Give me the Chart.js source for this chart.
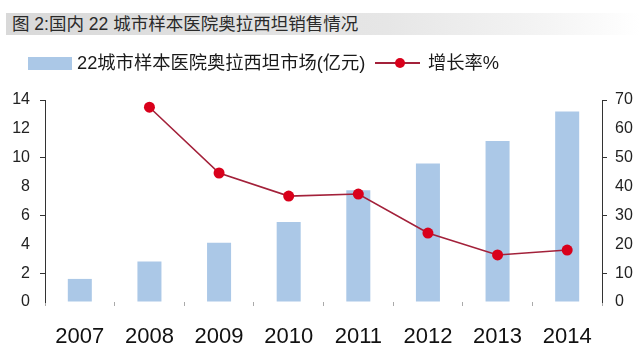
<!DOCTYPE html>
<html>
<head>
<meta charset="utf-8">
<script src="https://cdn.jsdelivr.net/npm/chart.js@4.4.1/dist/chart.umd.min.js"></script>
<style>
    body { margin: 0; background: #fff; font-family: "Liberation Sans", "Noto Sans CJK SC", sans-serif; }
    #wrap { position: relative; width: 640px; height: 352px; overflow: hidden; }
    #titulo {
        position: absolute; left: 6px; top: 13px; width: 634px; height: 22px;
        background: linear-gradient(to right, #d9d9d9, #e6e6e6 60%, #f4f4f4 85%, #fff);
        font-size: 17.5px; line-height: 23px; color: #2a2a2a; padding-left: 6px; box-sizing: border-box;
        font-family: "Liberation Sans", "Noto Sans CJK SC", sans-serif;
    }
    #leyenda { position: absolute; left: 0; top: 51px; width: 640px; height: 24px; font-size: 18.3px; color: #1a1a1a; }
    .caja { position: absolute; left: 28px; top: 6px; width: 44px; height: 13px; background: #abc8e7; }
    .txt { position: absolute; top: 0; line-height: 24px; white-space: nowrap; }
    .linea { position: absolute; left: 375px; top: 11px; width: 45px; height: 2px; background: #a3213a; }
    .punto { position: absolute; left: 395px; top: 7px; width: 10px; height: 10px; border-radius: 50%; background: #d9001b; }
    canvas { position: absolute; left: 0; top: 0; }
</style>
</head>
<body>
<div id="wrap">
    <canvas id="grafico" width="640" height="352"></canvas>
    <div id="titulo">图 2:国内 22 城市样本医院奥拉西坦销售情况</div>
    <div id="leyenda">
        <div class="caja"></div>
        <div class="txt" style="left:77px">22城市样本医院奥拉西坦市场(亿元)</div>
        <div class="linea"></div>
        <div class="punto"></div>
        <div class="txt" style="left:428px">增长率%</div>
    </div>
</div>
<script>
const anios = ["2007", "2008", "2009", "2010", "2011", "2012", "2013", "2014"];
const mercado = [1.6, 2.8, 4.1, 5.55, 7.75, 9.6, 11.15, 13.2];
const crecimiento = [null, 67.5, 44.7, 36.7, 37.4, 23.9, 16.3, 18.0];
const ticksIzq = [0, 2, 4, 6, 8, 10, 12, 14];
const ticksDer = [0, 10, 20, 30, 40, 50, 60, 70];

const fuente = "'Liberation Sans', 'Noto Sans CJK SC', sans-serif";

new Chart(document.getElementById("grafico"), {
    data: {
        labels: anios,
        datasets: [{
            type: "line",
            label: "增长率%",
            data: crecimiento,
            yAxisID: "y1",
            borderColor: "#a3213a",
            borderWidth: 1.6,
            pointBackgroundColor: "#d9001b",
            pointBorderColor: "#d9001b",
            pointRadius: 5.5,
            pointBorderWidth: 0,
            tension: 0,
            order: 0
        }, {
            type: "bar",
            label: "22城市样本医院奥拉西坦市场(亿元)",
            data: mercado,
            yAxisID: "y",
            backgroundColor: "#abc8e7",
            categoryPercentage: 1,
            barPercentage: 0.345,
            order: 1
        }]
    },
    options: {
        responsive: false,
        animation: false,
        layout: { padding: { top: 100, left: 0, right: 0, bottom: 0 } },
        plugins: {
            legend: { display: false },
            tooltip: { enabled: false }
        },
        scales: {
            x: {
                offset: true,
                afterFit: (scale) => { scale.height = 50; },
                grid: { offset: true, drawOnChartArea: false, drawTicks: true, tickLength: 4, color: "#aaa" },
                border: { display: false },
                ticks: { color: "#111", padding: 18, font: { family: fuente, size: 22 } }
            },
            y: {
                position: "left",
                min: 0,
                max: 14,
                afterFit: (scale) => { scale.width = 45; },
                afterBuildTicks: (scale) => { scale.ticks = ticksIzq.map(v => ({ value: v })); },
                grid: {
                    drawOnChartArea: false,
                    tickLength: 5,
                    tickColor: (ctx) => (ctx.tick && ctx.tick.value % 4 === 2) ? "#333" : "rgba(0,0,0,0)"
                },
                border: { color: "#333", width: 1 },
                ticks: { color: "#222", padding: 10, font: { family: fuente, size: 16 } }
            },
            y1: {
                position: "right",
                min: 0,
                max: 70,
                afterFit: (scale) => { scale.width = 38; },
                afterBuildTicks: (scale) => { scale.ticks = ticksDer.map(v => ({ value: v })); },
                grid: {
                    drawOnChartArea: false,
                    tickLength: 5,
                    tickColor: (ctx) => (ctx.tick && ctx.tick.value % 20 === 10) ? "#333" : "rgba(0,0,0,0)"
                },
                border: { color: "#333", width: 1 },
                ticks: { color: "#222", padding: 8, font: { family: fuente, size: 16 } }
            }
        }
    }
});
</script>
</body>
</html>
